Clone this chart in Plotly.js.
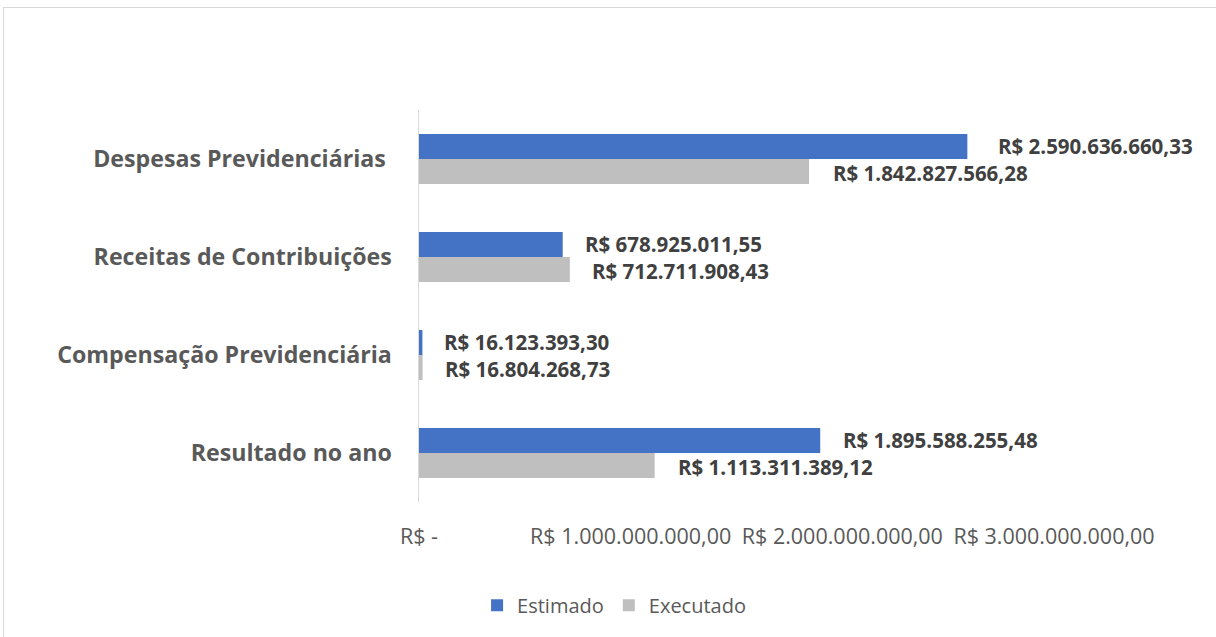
<!DOCTYPE html>
<html>
<head>
<meta charset="utf-8">
<script src="https://cdn.plot.ly/plotly-3.0.1.min.js"></script>
<style>
  body { margin: 0; background: #fff; }
  #frame { position: absolute; left: 3px; top: 7px; width: 1240px; height: 660px; border: 1.5px solid #d9d9d9; }
  #chart { position: absolute; left: 0; top: 0; width: 1216px; height: 637px; }
</style>
</head>
<body>
<div id="frame"></div>
<div id="chart"></div>
<script>
// Categories, top to bottom
const categories = [
    'Despesas Previdenciárias ',
    'Receitas de Contribuições',
    'Compensação Previdenciária',
    'Resultado no ano'
];

// Series values (R$)
const estimado = [2590636660.33, 678925011.55, 16123393.30, 1895588255.48];
const executado = [1842827566.28, 712711908.43, 16804268.73, 1113311389.12];

// Axis ticks
const tickVals = [0, 1000000000, 2000000000, 3000000000];

// label offsets (styling only)
const estLabelShift = [29, 20, 20, 21];
const exeLabelShift = [22, 20, 20, 21];

function formatBRL(v) {
    let fixed = v.toFixed(2);
    let parts = fixed.split('.');
    let intPart = parts[0].replace(/\B(?=(\d{3})+(?!\d))/g, '.');
    return 'R$ ' + intPart + ',' + parts[1];
}

const tickText = tickVals.map(v => v === 0 ? 'R$ -' : formatBRL(v));

const fontFamily = '"Open Sans", "Noto Sans", sans-serif';

var traceEst = {
    type: 'bar',
    orientation: 'h',
    name: 'Estimado',
    y: categories,
    x: estimado,
    marker: { color: '#4472C4' },
    hoverinfo: 'skip'
};

var traceExe = {
    type: 'bar',
    orientation: 'h',
    name: 'Executado',
    y: categories,
    x: executado,
    marker: { color: '#BFBFBF' },
    hoverinfo: 'skip'
};

var annotations = [];
for (let i = 0; i < categories.length; i++) {
    annotations.push({
        x: estimado[i], y: categories[i], xref: 'x', yref: 'y',
        text: formatBRL(estimado[i]), showarrow: false,
        xanchor: 'left', yanchor: 'middle',
        xshift: estLabelShift[i], yshift: 13.5,
        font: { family: fontFamily, size: 20.5, color: '#404040', weight: 'bold' }
    });
    annotations.push({
        x: executado[i], y: categories[i], xref: 'x', yref: 'y',
        text: formatBRL(executado[i]), showarrow: false,
        xanchor: 'left', yanchor: 'middle',
        xshift: exeLabelShift[i], yshift: -13.5,
        font: { family: fontFamily, size: 20.5, color: '#404040', weight: 'bold' }
    });
}

var layout = {
    width: 1216,
    height: 637,
    paper_bgcolor: 'rgba(0,0,0,0)',
    plot_bgcolor: 'rgba(0,0,0,0)',
    margin: { l: 419, r: 162, t: 110, b: 135 },
    barmode: 'group',
    bargap: 0.49,
    bargroupgap: 0,
    font: { family: fontFamily, color: '#595959' },
    xaxis: {
        range: [0, 3000000000],
        tickvals: tickVals,
        ticktext: tickText,
        showgrid: false,
        zeroline: false,
        showline: false,
        ticks: '',
        ticklabelstandoff: 19,
        tickfont: { family: fontFamily, size: 21.5, color: '#595959' },
        fixedrange: true
    },
    yaxis: {
        autorange: 'reversed',
        type: 'category',
        showgrid: false,
        zeroline: false,
        showline: true,
        linecolor: '#D9D9D9',
        linewidth: 1.5,
        ticks: '',
        ticklabelstandoff: 21,
        tickfont: { family: fontFamily, size: 23.2, color: '#595959', weight: 'bold' },
        fixedrange: true
    },
    showlegend: true,
    legend: {
        orientation: 'h',
        traceorder: 'normal',
        xref: 'container',
        yref: 'container',
        x: 0.505,
        xanchor: 'center',
        y: 0.05,
        yanchor: 'middle',
        itemwidth: 30,
        font: { family: fontFamily, size: 20, color: '#595959' }
    },
    annotations: annotations
};

Plotly.newPlot('chart', [traceEst, traceExe], layout, { displayModeBar: false, staticPlot: true });
</script>
</body>
</html>
